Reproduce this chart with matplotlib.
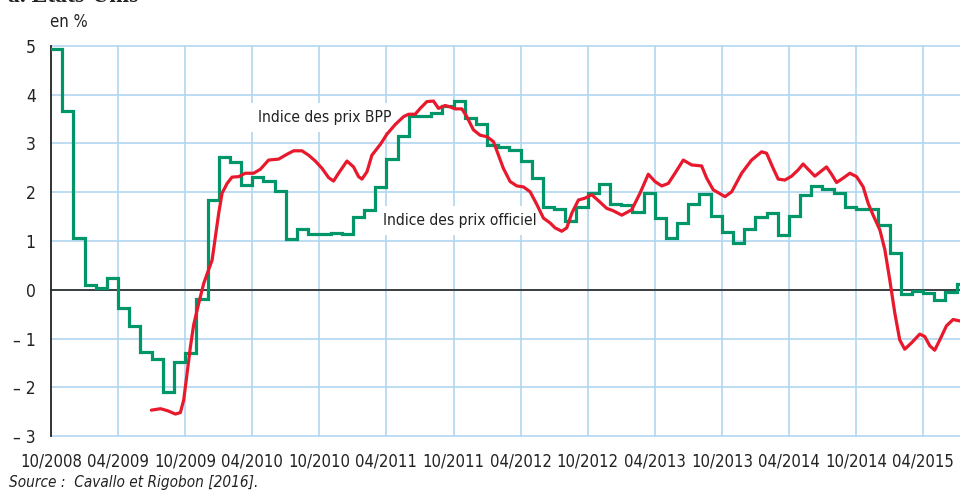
import numpy as np
import matplotlib.pyplot as plt

plt.rcParams['font.family'] = ['DejaVu Sans']
plt.rcParams['font.stretch'] = 'condensed'

# official CPI, one value per month starting 10/2008 (year-on-year, %)
officiel = [4.94, 3.66, 1.07, 0.09, 0.03, 0.24, -0.38, -0.74, -1.28, -1.43, -2.10, -1.48,
            -1.29, -0.18, 1.84, 2.72, 2.63, 2.14, 2.31, 2.24, 2.02, 1.05, 1.24, 1.15,
            1.14, 1.17, 1.14, 1.50, 1.63, 2.11, 2.68, 3.16, 3.57, 3.56, 3.63, 3.77,
            3.87, 3.53, 3.39, 2.96, 2.93, 2.87, 2.65, 2.30, 1.70, 1.66, 1.41, 1.69,
            1.99, 2.16, 1.76, 1.74, 1.59, 1.98, 1.47, 1.06, 1.36, 1.75, 1.96, 1.52,
            1.18, 0.96, 1.24, 1.50, 1.58, 1.13, 1.51, 1.95, 2.13, 2.07, 1.99, 1.70,
            1.66, 1.66, 1.32, 0.76, -0.09, -0.03, -0.07, -0.20, -0.04, 0.12]

# BPP online price index, months elapsed since 10/2008
bpp_mois = [8.98, 9.79, 10.41, 11.13, 11.57, 11.87, 12.17, 12.47, 12.76, 13.21, 13.66, 14.10,
            14.41, 14.70, 15.00, 15.30, 15.75, 16.19, 16.78, 17.38, 18.12, 18.72, 19.46, 20.36,
            21.11, 21.70, 22.45, 23.04, 23.64, 24.24, 24.83, 25.27, 25.72, 26.47, 27.06, 27.51,
            27.81, 28.26, 28.70, 29.45, 30.04, 30.79, 31.53, 31.98, 32.57, 33.02, 33.62, 34.21,
            34.66, 35.25, 35.70, 36.15, 36.75, 37.19, 37.78, 38.38, 38.98, 39.57, 40.02, 40.46,
            41.06, 41.66, 42.25, 42.85, 43.45, 44.04, 44.64, 45.08, 45.68, 46.13, 46.58, 47.17,
            47.77, 48.36, 48.95, 49.70, 50.29, 51.05, 51.94, 52.68, 53.42, 54.02, 54.62, 55.21,
            55.81, 56.55, 57.30, 58.19, 58.64, 59.23, 60.28, 60.88, 61.77, 62.66, 63.56, 64.00,
            64.59, 65.04, 65.64, 66.24, 66.83, 67.27, 67.72, 68.32, 68.92, 69.36, 69.81, 70.26,
            70.85, 71.45, 72.05, 72.64, 73.09, 73.53, 74.13, 74.58, 75.02, 75.47, 75.91, 76.36,
            76.96, 77.70, 78.15, 78.60, 79.04, 79.49, 80.09, 80.68, 81.28]
bpp = [-2.47, -2.44, -2.48, -2.55, -2.52, -2.26, -1.71, -1.17, -0.72, -0.28, 0.13, 0.41,
       0.61, 1.09, 1.57, 1.98, 2.18, 2.31, 2.32, 2.39, 2.39, 2.47, 2.66, 2.68,
       2.78, 2.85, 2.85, 2.76, 2.64, 2.49, 2.30, 2.23, 2.39, 2.64, 2.52, 2.32,
       2.27, 2.42, 2.76, 2.98, 3.19, 3.39, 3.55, 3.60, 3.60, 3.72, 3.86, 3.87,
       3.72, 3.78, 3.75, 3.71, 3.71, 3.55, 3.28, 3.17, 3.14, 3.04, 2.76, 2.49,
       2.22, 2.13, 2.11, 2.01, 1.75, 1.47, 1.37, 1.27, 1.20, 1.27, 1.57, 1.84,
       1.88, 1.95, 1.83, 1.67, 1.62, 1.53, 1.64, 1.98, 2.37, 2.22, 2.13, 2.18,
       2.39, 2.66, 2.56, 2.54, 2.29, 2.05, 1.91, 2.01, 2.39, 2.66, 2.83, 2.80,
       2.49, 2.27, 2.25, 2.33, 2.46, 2.58, 2.47, 2.33, 2.44, 2.52, 2.37, 2.20,
       2.29, 2.39, 2.32, 2.11, 1.77, 1.53, 1.23, 0.82, 0.20, -0.48, -1.03, -1.22,
       -1.09, -0.91, -0.96, -1.15, -1.24, -1.03, -0.74, -0.61, -0.64]

x_ticks = list(range(0, 79, 6))
x_labels = ['10/2008', '04/2009', '10/2009', '04/2010', '10/2010', '04/2011', '10/2011',
            '04/2012', '10/2012', '04/2013', '10/2013', '04/2014', '10/2014', '04/2015']
y_ticks = list(range(-3, 6))
y_labels = ['– 3', '– 2', '– 1', '0', '1', '2', '3', '4', '5']

bleu = '#b2d7f0'
vert = '#00966a'
rouge = '#e8192d'

fig = plt.figure(figsize=(9.6, 4.9), dpi=100)
ax = fig.add_axes([51 / 960, 1 - 436 / 490, 909 / 960, 390 / 490])
ax.set_xlim(0, 81.3)
ax.set_ylim(-3, 5)

for v in y_ticks:
    ax.axhline(v, color=bleu, lw=1.2, zorder=0, clip_on=False)
for t in x_ticks[1:]:
    ax.axvline(t, color=bleu, lw=1.2, zorder=0, clip_on=False)
ax.axhline(0, color='#222222', lw=1.2, zorder=1)

x_step = np.arange(len(officiel) + 1)
ax.plot(x_step, officiel + officiel[-1:], drawstyle='steps-post', color=vert, lw=2.3,
        solid_joinstyle='miter', zorder=3)
ax.plot(bpp_mois, bpp, color=rouge, lw=2.3, solid_capstyle='round', zorder=4)

for s in ['top', 'right', 'bottom']:
    ax.spines[s].set_visible(False)
ax.spines['left'].set_color('#222222')
ax.spines['left'].set_linewidth(1.3)

ax.set_xticks(x_ticks)
ax.set_xticklabels(x_labels)
ax.set_yticks(y_ticks)
ax.set_yticklabels(y_labels)
ax.tick_params(axis='both', length=0, labelsize=12, colors='#222222')
ax.tick_params(axis='y', labelsize=12.5, pad=11)
ax.tick_params(axis='x', pad=12)

# labels sit on white boxes that hide the grid but not the curves
ax.text(18.5, 3.53, 'Indice des prix BPP', fontsize=11.2, color='#222222', va='center',
        zorder=2, bbox=dict(facecolor='white', edgecolor='none', pad=5))
ax.text(29.7, 1.42, 'Indice des prix officiel', fontsize=11.2, color='#222222', va='center',
        zorder=2, bbox=dict(facecolor='white', edgecolor='none', pad=5))

fig.text(50 / 960, 1 - 22 / 490, 'en %', fontsize=12, color='#222222', va='center')
fig.text(9 / 960, 1 - 482 / 490, 'Source :  Cavallo et Rigobon [2016].', fontsize=11,
         style='italic', color='#222222', va='center')
fig.text(8 / 960, 1 - 2.5 / 490, 'a. Etats-Unis', fontsize=17, fontweight='bold',
         family=['Liberation Serif', 'DejaVu Serif'], color='#222222', va='baseline')

fig.savefig('out.png', dpi=100)
